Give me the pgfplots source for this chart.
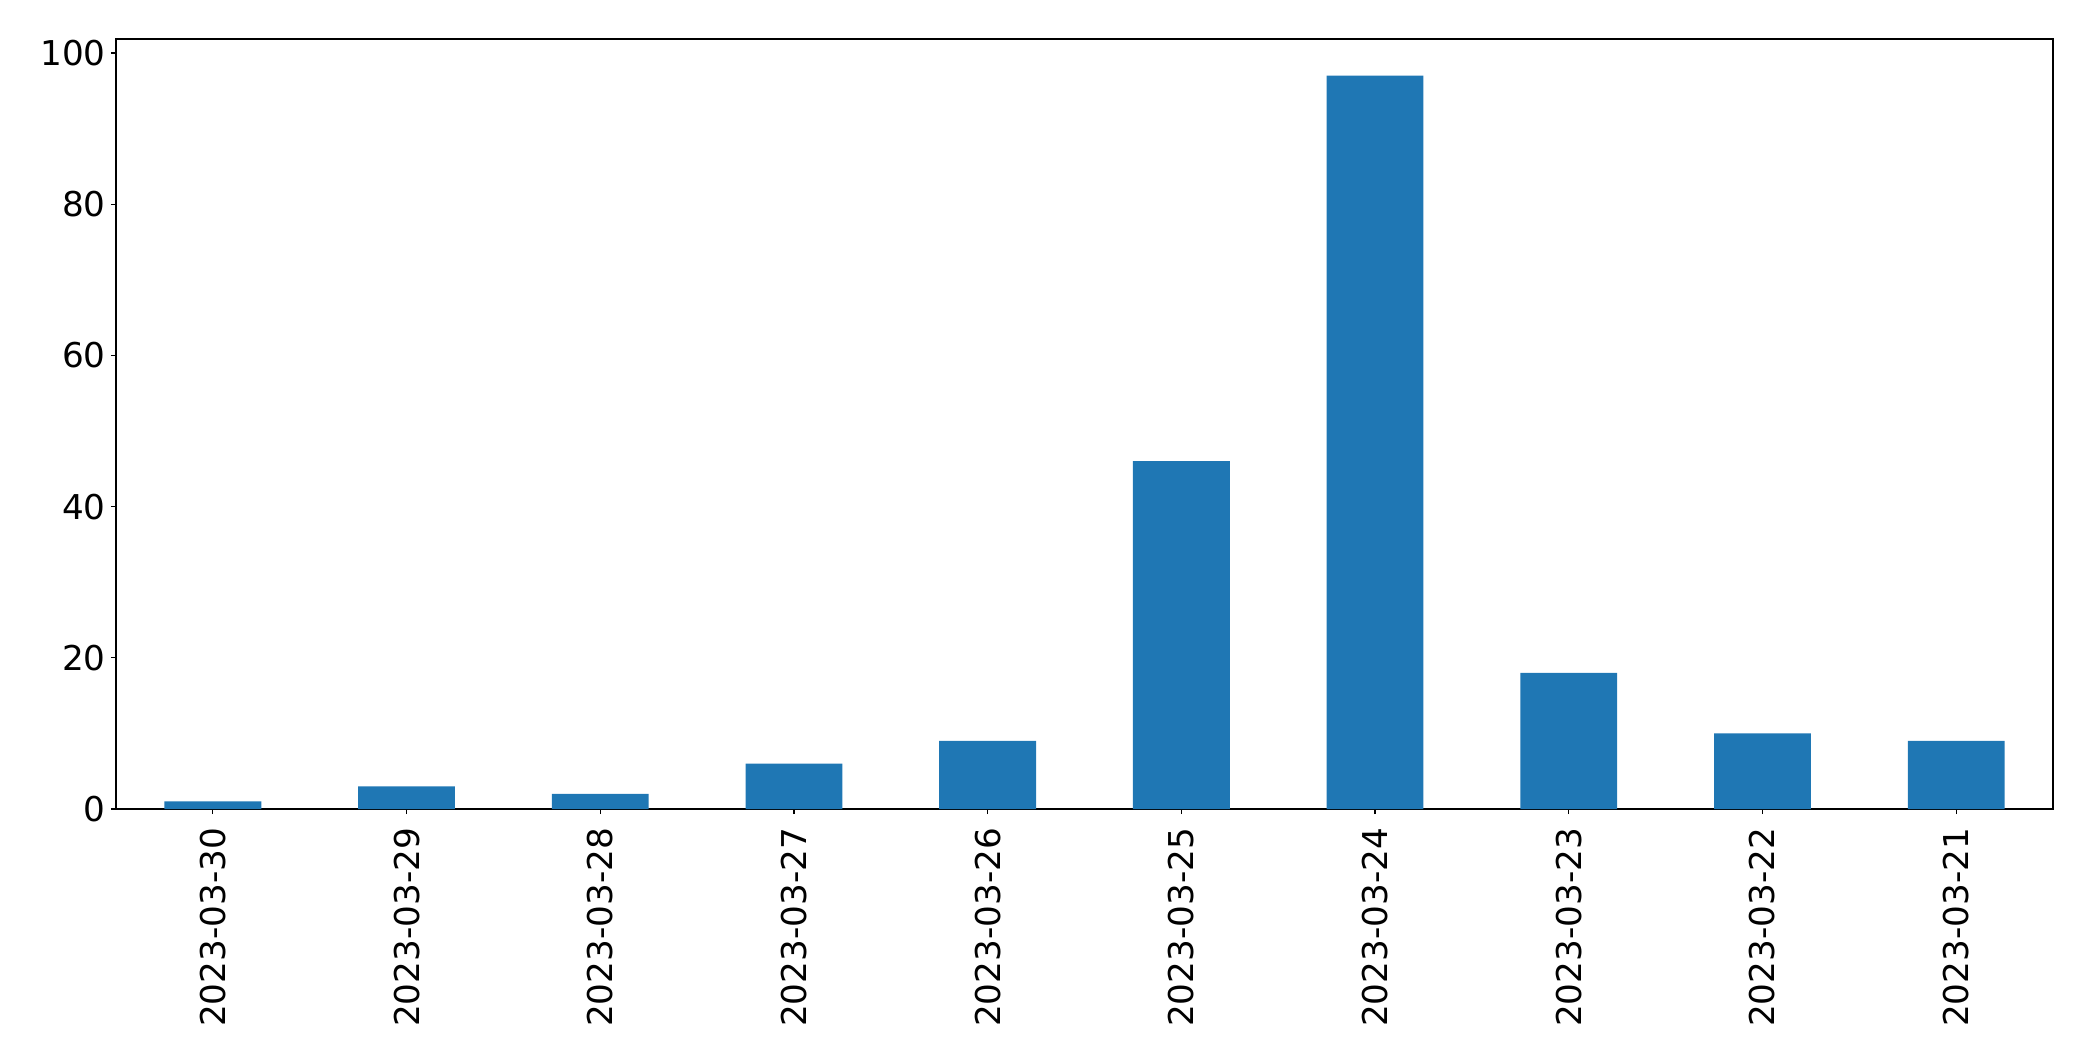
\documentclass[border=0pt]{standalone}
\usepackage{fontspec}
\setmainfont{DejaVu Sans}
\usepackage{pgfplots}
\pgfplotsset{compat=1.18}
\definecolor{barblue}{HTML}{1F77B4}
\begin{document}
\fontsize{17.1bp}{20.5bp}\selectfont
\begin{tikzpicture}
\begin{axis}[
	at={(0,0)}, anchor=south west,
	width=968.5bp, height=385bp,
	scale only axis,
	xmin=-0.5, xmax=9.5,
	ymin=0, ymax=101.85,
	ytick={0,20,40,60,80,100},
	xtick=data,
	xticklabels={2023-03-30,2023-03-29,2023-03-28,2023-03-27,2023-03-26,2023-03-25,2023-03-24,2023-03-23,2023-03-22,2023-03-21},
	x tick label style={yshift=-7bp, rotate=90, anchor=east, inner sep=0pt, outer sep=0pt},
	y tick label style={inner sep=0pt, outer sep=0pt, xshift=-2.65bp},
	tick align=outside,
	tick pos=left,
	major tick length=2.5bp,
	every tick/.style={black, line width=0.6bp},
	axis line style={line width=0.6bp},
	/pgf/number format/assume math mode=true,
	ybar, bar width=0.5, bar shift=0pt,
]
\addplot[fill=barblue, draw=none] coordinates {
	(0,1) (1,3) (2,2) (3,6) (4,9) (5,46) (6,97) (7,18) (8,10) (9,9)
};
\end{axis}
\pgfresetboundingbox
\path[use as bounding box] (-58bp,-126bp) rectangle (988.5bp,404.5bp);
\end{tikzpicture}
\end{document}
